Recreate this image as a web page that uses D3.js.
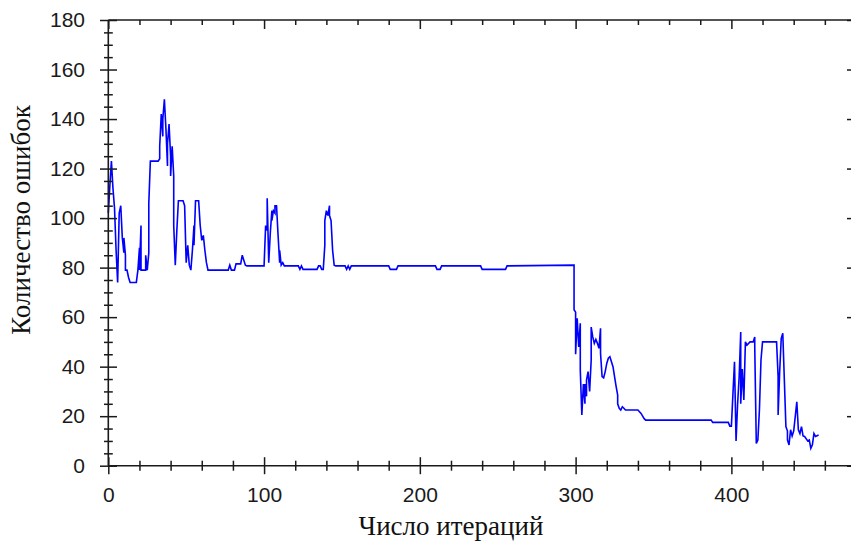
<!DOCTYPE html>
<html><head><meta charset="utf-8">
<script src="https://cdn.jsdelivr.net/npm/d3@7"></script>
<style>body{margin:0;background:#fff}svg{display:block}</style>
</head><body>
<svg id="chart" width="851" height="544"></svg>
<script>
// ---- data ----
const iterations = [
  0,1,2,3,4,5,6,7,8,9,10,10,11,11,12,13,14,18,19,20,20,21,21,24,24,25,26,26,27,32,
  33,33,34,35,35,36,37,38,38,39,40,40,41,42,42,43,44,45,48,49,50,51,52,53,54,55,55,56,58,59,
  60,61,62,63,64,77,78,79,81,82,85,86,87,88,89,100,101,102,102,103,104,105,105,106,107,107,108,109,110,110,
  111,112,113,122,123,124,125,134,135,136,137,138,139,139,140,141,142,142,143,144,145,146,152,153,154,155,156,180,181,185,
  186,210,211,213,214,239,240,255,256,299,299,300,300,301,302,303,303,304,305,306,306,307,307,308,309,310,310,311,312,313,
  314,315,316,316,317,318,319,320,321,322,323,324,325,326,327,327,328,329,330,331,332,340,342,344,345,387,388,398,399,400,
  401,402,403,404,405,406,406,407,408,409,410,412,414,415,415,416,417,418,419,420,429,430,430,431,432,433,434,435,436,436,
  437,438,439,440,441,442,443,444,445,446,447,449,450,451,452,453,454,456
];
const errors = [
  102,113,123,112,104,87,74,102,105,92,86,92,85,79,79,76,74,74,79,88,79,97,79,79,85,79,86,106,123,123,
  124,129,142,133,140,148,136,121,130,138,125,117,129,117,97,81,95,107,107,105,82,89,81,79,87,97,89,107,107,97,
  91,93,87,82,79,79,81,79,79,81.5,81.5,85,83,81,80.7,80.7,97,95,108,82,94,103,99,103,102,105,105,93,82,87,
  81,82,80.7,80.7,79.3,80.7,79.3,79.3,80.7,80.7,79.3,79.3,89,99,103,101,105,101,99,87,81,80.7,80.7,79.3,80.7,79.3,80.7,80.7,79.3,79.3,
  80.7,80.7,79.3,79.3,80.7,80.7,79.3,79.3,80.7,81,63,62,45,59.5,48,57.5,38.6,20.5,33,25,33,28,34.6,38,30,42.7,56,52,49.4,51,
  49.4,47.4,55.5,45.4,36,35.5,38,41.3,43.4,44,42,40,36,32,28.5,25,23.2,22.5,23.8,23.2,22.5,22.5,21.1,19,18.4,18.4,17.5,17.5,16,16,
  29,42,10,25,36,54,25,39,26.5,50,48.7,50,50,52,48,9,10.4,22.5,42.7,50,50,36,20.5,38,51.4,53.5,34.6,15.8,14,10.4,
  8.4,14.5,12,14,19.8,25.8,14.5,13,15.8,12,11.8,10,10.4,7,8.4,13,11.8,12.4
];
const xMajorTicks = [0, 100, 200, 300, 400];
const xMinorTicks = [20,40,60,80,120,140,160,180,220,240,260,280,320,340,360,380,420,440,460,480];
const yMajorTicks = [0, 20, 40, 60, 80, 100, 120, 140, 160, 180];
const yMinorTicks = d3.range(5, 180, 5).filter(v => v % 20 !== 0);
const xTitle = "Число итераций";
const yTitle = "Количество ошибок";

// ---- drawing ----
const svg = d3.select("#chart");
const x = d3.scaleLinear().domain([0, 480]).range([108.3, 856]);
const y = d3.scaleLinear().domain([0, 180]).range([465.7, 20]);
const ink = "#1a1a1a";
const labelFont = "'Liberation Sans', Arial, sans-serif";
const titleFont = "'Liberation Serif', 'Times New Roman', serif";

function styleAxis(g) {
  g.select(".domain").remove();
  g.attr("font-family", labelFont).attr("font-size", 21).attr("color", ink);
  g.selectAll(".tick line").attr("stroke-width", 1.5);
}

// data line (drawn first, axes on top)
const pts = iterations.map((d, i) => [d, errors[i]]);
svg.append("path")
  .datum(pts)
  .attr("fill", "none")
  .attr("stroke", "#0000ff")
  .attr("stroke-width", 1.6)
  .attr("stroke-linejoin", "miter")
  .attr("d", d3.line().x(d => x(d[0])).y(d => y(d[1])));

// frame lines
const frame = svg.append("g").attr("stroke", ink).attr("stroke-width", 1.6);
frame.append("line").attr("x1", x(0)).attr("x2", x(0)).attr("y1", y(180)).attr("y2", y(0));
frame.append("line").attr("x1", x(0)).attr("x2", x(480)).attr("y1", y(0)).attr("y2", y(0));
frame.append("line").attr("x1", x(0)).attr("x2", x(480)).attr("y1", y(180)).attr("y2", y(180));
frame.append("line").attr("x1", x(480)).attr("x2", x(480)).attr("y1", y(180)).attr("y2", y(0));

// left axis: major (crossing) with labels
const gL = svg.append("g").attr("transform", `translate(${x(0)},0)`)
  .call(d3.axisLeft(y).tickValues(yMajorTicks).tickSize(8.3).tickPadding(15).tickFormat(d3.format("d")));
styleAxis(gL);
gL.selectAll(".tick line").attr("x1", 8.7);
// left axis: minor
const gLm = svg.append("g").attr("transform", `translate(${x(0)},0)`)
  .call(d3.axisLeft(y).tickValues(yMinorTicks).tickSize(4.3).tickFormat(""));
styleAxis(gLm);
gLm.selectAll(".tick line").attr("x1", 4.5);

// bottom axis: major (crossing) with labels
const gB = svg.append("g").attr("transform", `translate(0,${y(0)})`)
  .call(d3.axisBottom(x).tickValues(xMajorTicks).tickSize(8.5).tickPadding(12.5).tickFormat(d3.format("d")));
styleAxis(gB);
gB.selectAll(".tick line").attr("y1", -8.5);
const gBm = svg.append("g").attr("transform", `translate(0,${y(0)})`)
  .call(d3.axisBottom(x).tickValues(xMinorTicks).tickSize(5).tickFormat(""));
styleAxis(gBm);
gBm.selectAll(".tick line").attr("y1", -5);

// top axis: inward ticks only
const gT = svg.append("g").attr("transform", `translate(0,${y(180)})`)
  .call(d3.axisBottom(x).tickValues(xMajorTicks).tickSize(9).tickFormat(""));
styleAxis(gT);
const gTm = svg.append("g").attr("transform", `translate(0,${y(180)})`)
  .call(d3.axisBottom(x).tickValues(xMinorTicks).tickSize(5).tickFormat(""));
styleAxis(gTm);

// right axis: inward ticks only
const gR = svg.append("g").attr("transform", `translate(${x(480)},0)`)
  .call(d3.axisLeft(y).tickValues(yMajorTicks).tickSize(9).tickFormat(""));
styleAxis(gR);
const gRm = svg.append("g").attr("transform", `translate(${x(480)},0)`)
  .call(d3.axisLeft(y).tickValues(yMinorTicks).tickSize(5).tickFormat(""));
styleAxis(gRm);

// titles
svg.append("text")
  .attr("x", 451).attr("y", 535)
  .attr("text-anchor", "middle")
  .attr("font-family", titleFont).attr("font-size", 27)
  .attr("fill", "#111")
  .text(xTitle);
svg.append("text")
  .attr("transform", "translate(30,220) rotate(-90)")
  .attr("text-anchor", "middle")
  .attr("font-family", titleFont).attr("font-size", 27)
  .attr("fill", "#111")
  .text(yTitle);
</script>
</body></html>
